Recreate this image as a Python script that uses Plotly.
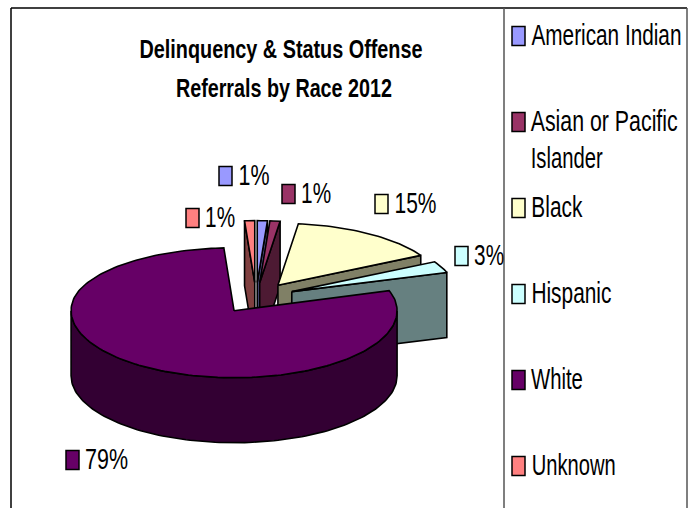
import json
import math
import plotly.graph_objects as go

# Referral shares by race, 2012 (percent)
categories = ["American Indian", "Asian or Pacific Islander", "Black", "Hispanic", "White", "Unknown"]
values = [1, 1, 15, 3, 79, 1]
top_colors = ["#9999FF", "#993366", "#FFFFCC", "#CCFFFF", "#660066", "#FF8080"]
side_colors = ["#4D4D80", "#4D1A33", "#808066", "#668080", "#330033", "#804040"]

title_lines = ["Delinquency & Status Offense", "Referrals by Race 2012"]
legend_lines = [["American Indian"], ["Asian or Pacific", "Islander"], ["Black"], ["Hispanic"], ["White"], ["Unknown"]]

# Pie geometry in page pixels
CX, CY = 256, 297.5
RX = 163
RY_BACK, RY_FRONT = 62, 67
DEPTH = 65
EXPLODE = 39
DRAW_ORDER = [5, 0, 1, 2, 3, 4]

FONT = "Liberation Sans, Arial, sans-serif"


def project(u, v):
    """Map a point on the pie's ground plane to the page, v pointing away from the viewer."""
    scale = RY_BACK if v > 0 else RY_FRONT
    return CX + u, CY - v * scale / RX


def ground(theta, r):
    rad = math.radians(theta)
    return r * math.sin(rad), r * math.cos(rad)


def arc(theta0, theta1, ox, oy):
    n = max(2, int(abs(theta1 - theta0) / 1.5) + 1)
    pts = []
    for i in range(n + 1):
        t = theta0 + (theta1 - theta0) * i / n
        u, v = ground(t, RX)
        pts.append(project(ox + u, oy + v))
    return pts


def polygon(fig, pts, color):
    xs = [p[0] for p in pts] + [pts[0][0]]
    ys = [p[1] for p in pts] + [pts[0][1]]
    fig.add_trace(go.Scatter(x=xs, y=ys, mode="lines", fill="toself", fillcolor=color,
                             line=dict(color="black", width=1.6), hoverinfo="skip", showlegend=False))


def extrude(path):
    return path + [(x, y + DEPTH) for x, y in reversed(path)]


fig = go.Figure()

total = sum(values)
spans = []
acc = 0
for value in values:
    spans.append((acc / total * 360, (acc + value) / total * 360))
    acc += value

for i in DRAW_ORDER:
    a0, a1 = spans[i]
    ox, oy = ground((a0 + a1) / 2, EXPLODE)
    apex = project(ox, oy)
    outer = arc(a0, a1, ox, oy)

    # Radial walls that turn toward the viewer
    if math.cos(math.radians(a0 - 90)) < 0:
        polygon(fig, extrude([apex, outer[0]]), side_colors[i])
    if math.cos(math.radians(a1 + 90)) < 0:
        polygon(fig, extrude([apex, outer[-1]]), side_colors[i])

    # Rim wall: only the part of the arc on the near half shows
    lo, hi = max(a0, 90), min(a1, 270)
    if hi > lo:
        polygon(fig, extrude(arc(lo, hi, ox, oy)), side_colors[i])

    polygon(fig, [apex] + outer, top_colors[i])

annotations = []
shapes = []
text_fit = []


def swatch(x, y, color):
    shapes.append(dict(type="rect", xref="x", yref="y", x0=x, x1=x + 13, y0=y - 9.5, y1=y + 9.5,
                       fillcolor=color, line=dict(color="black", width=1.5), layer="above"))


def label(left, width, y, text, size=19.5, stretch=1.5, weight="normal"):
    """Place a text by its left edge, its set width and its vertical stretch."""
    text_fit.append([width, stretch])
    annotations.append(dict(x=left + width / 2, y=y, xref="x", yref="y", text=text,
                            showarrow=False, xanchor="center", yanchor="middle",
                            font=dict(family=FONT, size=size, color="black", weight=weight),
                            borderpad=0, borderwidth=0))


# Title
label(139, 283, 49, title_lines[0], size=19.9, stretch=1.3, weight="bold")
label(176, 216, 88, title_lines[1], size=19.9, stretch=1.3, weight="bold")

# Legend column
legend_top = 36
legend_step = 86
legend_widths = [[150], [147, 72], [51], [80], [52], [84]]
for i, lines in enumerate(legend_lines):
    y = legend_top + legend_step * i
    swatch(512, y, top_colors[i])
    for j, line in enumerate(lines):
        label(531, legend_widths[i][j], y - 1 + j * 37, line)

# Percentage labels beside each slice: swatch left edge, vertical centre, text width
label_anchor = {0: (219, 176, 31), 1: (282, 194, 30), 2: (375, 204, 42),
                3: (455, 256, 30), 4: (66, 460, 43), 5: (186, 218, 30)}
for i, (x, y, w) in label_anchor.items():
    swatch(x, y, top_colors[i])
    label(x + 19, w, y - 1, f"{values[i]}%")

# Chart frame and legend box
for x0, y0, x1, y1, col in [(11, 8, 687, 8, "black"), (11, 8, 11, 508, "black"),
                            (687, 8, 687, 508, "#555555"), (504, 8, 504, 508, "#555555")]:
    shapes.append(dict(type="line", xref="x", yref="y", x0=x0, y0=y0, x1=x1, y1=y1,
                       line=dict(color=col, width=1.5), layer="above"))

fig.update_layout(
    width=693, height=508, margin=dict(l=0, r=0, t=0, b=0),
    paper_bgcolor="white", plot_bgcolor="white", showlegend=False,
    xaxis=dict(range=[0, 693], visible=False, fixedrange=True),
    yaxis=dict(range=[508, 0], visible=False, fixedrange=True),
    annotations=annotations, shapes=shapes,
)

# Give the annotation glyphs their tall, condensed proportions
proportions = """
var fit = %s;
document.getElementById('{plot_id}').querySelectorAll('.annotation-text').forEach(function (t, i) {
  t.setAttribute('lengthAdjust', 'spacingAndGlyphs');
  t.setAttribute('textLength', fit[i][0]);
  var box = t.getBBox();
  var mid = box.y + box.height / 2;
  t.setAttribute('transform', 'translate(0 ' + mid * (1 - fit[i][1]) + ') scale(1 ' + fit[i][1] + ')');
});
""" % json.dumps(text_fit)

fig.write_html("out.html", config=dict(displayModeBar=False), post_script=proportions)
